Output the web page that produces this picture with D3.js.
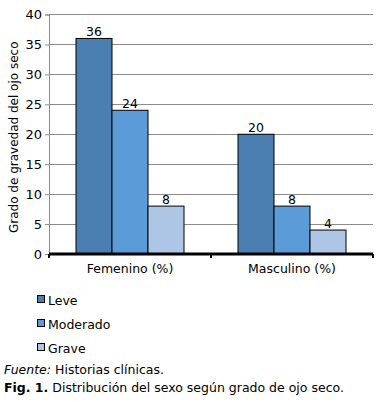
<!DOCTYPE html>
<html><head><meta charset="utf-8">
<script src="https://cdn.jsdelivr.net/npm/d3@7"></script>
<style>body{margin:0;background:#fff;}svg{display:block;font-family:Verdana,"DejaVu Sans",sans-serif;}</style>
</head><body>
<script>
const categories = ["Femenino (%)", "Masculino (%)"];
const seriesNames = ["Leve", "Moderado", "Grave"];
const leve = [36, 20];
const moderado = [24, 8];
const grave = [8, 4];
const yTicks = [0, 5, 10, 15, 20, 25, 30, 35, 40];
const colors = ["#4b7fb2", "#5b9cd8", "#adc6e6"];

const seriesValues = [leve, moderado, grave];
const W = 390, H = 402;
const svg = d3.select("body").append("svg").attr("width", W).attr("height", H);
const mLeft = 49, mRight = 373, mTop = 14.5, mBottom = 254;

const x = d3.scaleBand().domain(categories).range([mLeft, mRight]).paddingInner(0).paddingOuter(0);
const x1 = d3.scaleBand().domain(seriesNames).range([0, x.bandwidth()]).paddingInner(0).paddingOuter(0.75);
const y = d3.scaleLinear().domain([0, 40]).range([mBottom, mTop]);

// gridlines
svg.append("g").selectAll("line").data(yTicks.filter(d => d > 0)).join("line")
  .attr("x1", mLeft).attr("x2", mRight).attr("y1", d => y(d)).attr("y2", d => y(d))
  .attr("stroke", "#8c8c8c").attr("stroke-width", 1).attr("shape-rendering", "crispEdges");

// y axis
const yAxis = svg.append("g").attr("transform", `translate(${mLeft},0)`)
  .call(d3.axisLeft(y).tickValues(yTicks).tickSize(4).tickPadding(3));
yAxis.select(".domain").attr("stroke", "#8c8c8c");
yAxis.selectAll(".tick line").attr("stroke", "#8c8c8c");
yAxis.selectAll("text").attr("font-size", 13).attr("fill", "#000").attr("font-family", "Verdana,'DejaVu Sans',sans-serif");

// bars
const groups = svg.append("g").selectAll("g").data(categories).join("g")
  .attr("transform", d => `translate(${x(d)},0)`);
groups.selectAll("rect").data((c, ci) => seriesNames.map((s, si) => ({s, si, v: seriesValues[si][ci]}))).join("rect")
  .attr("x", d => x1(d.s)).attr("width", x1.bandwidth())
  .attr("y", d => y(d.v)).attr("height", d => y(0) - y(d.v))
  .attr("fill", d => colors[d.si]).attr("stroke", "#000").attr("stroke-width", 1);
groups.selectAll("text").data((c, ci) => seriesNames.map((s, si) => ({s, si, v: seriesValues[si][ci]}))).join("text")
  .attr("x", d => x1(d.s) + x1.bandwidth() / 2).attr("y", d => y(d.v) - 2)
  .attr("text-anchor", "middle").attr("font-size", 12.5).text(d => d.v);

// x axis
const xAxis = svg.append("g").attr("transform", `translate(0,${mBottom})`)
  .call(d3.axisBottom(x).tickSize(0).tickPadding(10));
xAxis.select(".domain").remove();
xAxis.selectAll("text").attr("font-size", 12.5).attr("fill", "#000").attr("font-family", "Verdana,'DejaVu Sans',sans-serif");
svg.append("line").attr("x1", mLeft).attr("x2", mRight).attr("y1", mBottom).attr("y2", mBottom)
  .attr("stroke", "#000").attr("stroke-width", 3);
svg.append("g").selectAll("line").data([mLeft, x(categories[1]), mRight]).join("line")
  .attr("x1", d => d).attr("x2", d => d).attr("y1", mBottom).attr("y2", mBottom + 4)
  .attr("stroke", "#000").attr("stroke-width", 2);

// y title
svg.append("text").attr("transform", `translate(18,${(mTop + mBottom) / 2 + 3}) rotate(-90)`)
  .attr("text-anchor", "middle").attr("font-size", 12).text("Grado de gravedad del ojo seco");

// legend
const leg = svg.append("g").selectAll("g").data(seriesNames).join("g")
  .attr("transform", (d, i) => `translate(37,${300 + i * 24})`);
leg.append("rect").attr("x", 0.5).attr("y", -4.5).attr("width", 7).attr("height", 7)
  .attr("fill", (d, i) => colors[i]).attr("stroke", "#000").attr("stroke-width", 1);
leg.append("text").attr("x", 11).attr("y", 4.5).attr("font-size", 12.5).text(d => d);

// footnotes
const f1 = svg.append("text").attr("x", 4).attr("y", 374).attr("font-size", 12.5);
f1.append("tspan").attr("font-style", "italic").text("Fuente:");
f1.append("tspan").text(" Historias clínicas.");
const f2 = svg.append("text").attr("x", 4).attr("y", 392).attr("font-size", 12.5);
f2.append("tspan").attr("font-weight", "bold").text("Fig. 1.");
f2.append("tspan").text(" Distribución del sexo según grado de ojo seco.");
</script>
</body></html>
